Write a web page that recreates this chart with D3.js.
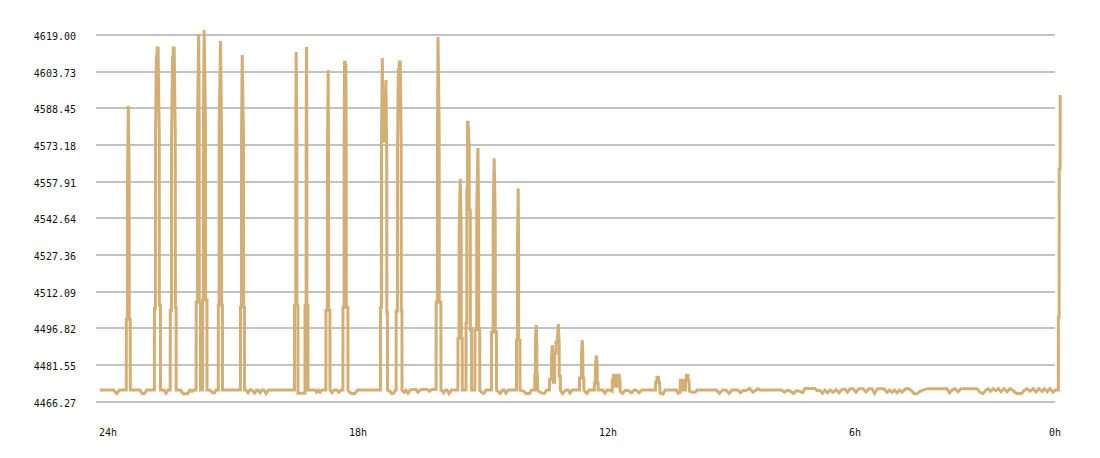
<!DOCTYPE html>
<html>
<head>
<meta charset="utf-8">
<script src="https://cdn.jsdelivr.net/npm/d3@7"></script>
<style>
  html, body { margin: 0; padding: 0; background: #ffffff; }
  svg { display: block; }
  text { font-family: "DejaVu Sans Mono", "Liberation Mono", monospace; font-size: 10px; fill: #111; }
</style>
</head>
<body>
<svg id="chart" width="1100" height="458"></svg>
<script>
// ---- data ----
const yTicks = [4466.27, 4481.55, 4496.82, 4512.09, 4527.36, 4542.64, 4557.91, 4573.18, 4588.45, 4603.73, 4619.00];
const xTickHours = [24, 18, 12, 6, 0];
const xTickLabels = ["24h", "18h", "12h", "6h", "0h"];
// [minutes since 24h ago, price]
const series = [
  [0,4471.1],[19.4,4471.1],[24.0,4469.6],[28.1,4471.1],[36.7,4471.1],
  [37.8,4471.1],[37.9,4500.6],[39.5,4500.6],[39.6,4559.8],[40.8,4589.4],[42.0,4559.8],[42.15,4500.6],[43.5,4500.6],[43.6,4471.1],
  [57.6,4471.1],[60.5,4469.7],[64.1,4469.7],[67.2,4471.1],[78.3,4471.1],
  [78.4,4505.2],[79.8,4505.2],[79.9,4574.0],[81.1,4609.8],[82.2,4609.8],[82.4,4613.6],[83.6,4613.6],[85.3,4577.7],[85.45,4506.5],[87.0,4506.5],[87.1,4471.1],
  [92.2,4471.1],[95.0,4469.8],[97.9,4471.1],[101.1,4471.1],
  [101.2,4504.4],[102.9,4504.4],[103.0,4573.6],[104.4,4609.8],[105.4,4609.8],[105.5,4613.6],[106.8,4613.6],[108.4,4577.3],[108.55,4505.6],[109.6,4505.6],[109.7,4471.1],
  [115.9,4471.1],[119.5,4469.6],[126.0,4469.6],[129.6,4471.1],[132.5,4470.6],[134.6,4471.1],[138.4,4471.1],
  [138.5,4507.7],[140.3,4507.7],[140.4,4582.3],[142.1,4619.4],[142.8,4582.3],[142.95,4507.7],[144.6,4507.7],[144.7,4471.1],
  [147.8,4471.1],
  [147.9,4508.6],[148.9,4508.6],[149.0,4583.6],[150.0,4621.1],[151.9,4583.6],[152.05,4508.6],[154.0,4508.6],[154.1,4471.1],
  [158.4,4471.1],[162.0,4470.0],[164.9,4470.0],[167.0,4471.1],[170.3,4471.1],
  [170.4,4506.5],[171.5,4506.5],[171.6,4579.8],[173.5,4616.5],[175.0,4579.8],[175.15,4506.5],[176.3,4506.5],[176.4,4471.1],
  [202.2,4471.1],
  [202.3,4505.6],[203.7,4505.6],[203.8,4575.7],[204.8,4610.7],[206.6,4575.7],[206.75,4505.6],[208.0,4505.6],[208.1,4471.1],
  [210.2,4471.1],[213.1,4470.0],[216.0,4471.3],[218.9,4471.1],[222.5,4469.8],[225.4,4471.1],[227.5,4471.1],
  [230.4,4470.0],[233.3,4471.1],[236.2,4471.1],[239.0,4469.6],[242.6,4471.1],[280.0,4471.1],
  [280.1,4506.1],[281.9,4506.1],[282.0,4576.5],[282.5,4611.9],[283.4,4576.5],[283.55,4506.1],[285.0,4506.1],[285.1,4469.8],
  [293.8,4469.8],[295.1,4469.8],
  [295.2,4506.5],[296.8,4506.5],[296.9,4578.2],[297.4,4614.0],[297.8,4578.2],[297.95,4506.5],[299.4,4506.5],[299.5,4471.1],
  [309.6,4471.1],[312.0,4470.2],[314.4,4471.1],[316.8,4470.2],[319.2,4471.1],[325.3,4471.1],
  [325.4,4504.4],[327.5,4504.4],[327.6,4571.1],[328.6,4604.4],[329.0,4571.1],[329.15,4504.4],[331.1,4504.4],[331.2,4471.1],
  [334.1,4470.0],[337.0,4471.1],[341.3,4471.1],[344.2,4470.2],[347.0,4471.1],[349.8,4471.1],
  [349.9,4505.6],[351.5,4505.6],[351.6,4573.2],[352.1,4607.7],[352.9,4607.7],[353.0,4606.5],[354.2,4606.5],[354.5,4573.2],[354.65,4505.6],[357.0,4505.6],[357.1,4471.1],
  [360.0,4470.0],[362.9,4469.7],[367.2,4469.7],[370.8,4471.1],[403.8,4471.1],
  [403.9,4505.6],[405.3,4505.6],[405.4,4574.8],[406.5,4609.4],[407.8,4574.8],[410.0,4574.8],[411.7,4600.3],[412.9,4567.7],[413.05,4503.2],[413.9,4503.2],[414.0,4471.1],
  [417.6,4470.6],[419.8,4469.7],[422.6,4469.7],[425.5,4471.1],[426.4,4471.1],
  [426.5,4504.0],[428.3,4504.0],[428.4,4570.2],[429.6,4604.4],[430.8,4604.4],[431.0,4607.8],[432.4,4607.8],[433.7,4573.2],[433.85,4504.0],[434.8,4504.0],[434.9,4471.1],
  [437.8,4470.2],[440.6,4471.1],[443.5,4469.8],[446.4,4471.1],[450.7,4471.3],[455.0,4471.3],[457.9,4470.2],
  [460.8,4471.1],[465.1,4471.4],[470.9,4471.4],[474.5,4470.6],[477.4,4471.3],[484.0,4471.3],
  [484.1,4507.7],[485.9,4507.7],[486.0,4580.7],[486.7,4618.2],[488.4,4580.7],[488.55,4507.7],[490.9,4507.7],[491.0,4471.1],
  [491.8,4471.1],[494.6,4470.0],[497.5,4471.1],[499.7,4471.1],[502.6,4469.7],[506.2,4471.1],[515.4,4471.1],
  [515.5,4492.7],[517.1,4492.7],[517.2,4536.9],[518.8,4559.0],[520.1,4536.9],[520.25,4492.7],[521.6,4492.7],[521.7,4471.1],
  [527.0,4471.1],
  [527.1,4499.0],[528.2,4499.0],[528.3,4554.8],[529.1,4554.8],[529.2,4582.7],[530.0,4582.7],[530.1,4579.8],[530.8,4579.8],
  [530.9,4574.0],[531.6,4574.0],[531.7,4546.1],[533.2,4546.1],[533.3,4496.1],[535.0,4496.1],[535.1,4471.1],
  [539.9,4471.1],
  [540.0,4496.1],[542.4,4496.1],[542.5,4546.5],[544.2,4571.9],[545.2,4546.5],[545.35,4496.1],[546.8,4496.1],[546.9,4471.1],
  [550.1,4470.0],[553.0,4469.8],[555.8,4471.1],[563.7,4471.1],
  [563.8,4495.2],[566.1,4495.2],[566.2,4543.2],[567.6,4567.7],[569.1,4543.2],[569.25,4495.2],[570.9,4495.2],[571.0,4471.1],
  [574.6,4470.2],[576.7,4469.7],[579.6,4471.1],[581.8,4471.1],[584.6,4469.8],[587.5,4471.1],[599.7,4471.1],
  [599.8,4491.9],[601.1,4491.9],[601.2,4534.0],[602.2,4555.2],[602.7,4534.0],[602.85,4491.9],[604.7,4491.9],[604.8,4471.1],
  [610.6,4470.6],[613.4,4469.7],[618.5,4469.7],[621.4,4471.1],[626.0,4471.1],
  [626.1,4477.3],[627.0,4477.3],[627.1,4491.1],[628.1,4498.2],[629.0,4491.1],[629.15,4477.3],[629.9,4477.3],[630.0,4471.1],
  [633.6,4470.2],[636.5,4469.8],[640.1,4469.8],[643.0,4471.1],[647.2,4471.1],
  [647.3,4475.6],[650.1,4475.6],[650.2,4484.8],[651.3,4489.8],[652.4,4484.8],[652.55,4474.4],[654.6,4474.4],
  [654.7,4486.5],[656.5,4486.5],[656.6,4491.1],[658.5,4491.1],[659.9,4498.6],[661.2,4491.1],[661.35,4476.9],[662.9,4476.9],[663.0,4471.1],
  [666.0,4469.6],[668.9,4470.6],[671.0,4471.1],[673.9,4471.1],[676.8,4469.8],[679.7,4471.1],[690.4,4471.1],
  [690.5,4476.1],[693.3,4476.1],[693.4,4486.5],[694.4,4491.9],[695.3,4486.5],[695.45,4476.1],[696.7,4476.1],[696.8,4471.1],
  [699.1,4470.2],[701.3,4469.7],[704.2,4471.1],[712.0,4471.1],
  [712.1,4474.0],[713.4,4474.0],[713.5,4481.5],[714.7,4485.6],[716.0,4481.5],[716.15,4474.0],[717.3,4474.0],[717.4,4471.1],
  [724.3,4471.1],[727.2,4469.8],[730.1,4471.1],[733.0,4471.1],[737.6,4470.6],
  [737.7,4475.2],[739.1,4475.2],[739.2,4477.3],[742.0,4477.3],[742.1,4472.7],[744.4,4472.7],[744.5,4477.3],[747.8,4477.3],[747.9,4475.2],[748.8,4475.2],[748.9,4470.6],
  [752.4,4469.7],[756.0,4470.9],[760.3,4470.9],[765.4,4470.0],[769.0,4471.1],[771.8,4471.1],[776.2,4470.0],[780.0,4471.1],[800.0,4471.1],
  [800.1,4474.4],[801.9,4474.4],[802.0,4476.5],[804.2,4476.5],[804.3,4474.4],[805.7,4474.4],[806.5,4469.8],
  [810.7,4469.4],[813.6,4471.1],[830.2,4471.1],[832.3,4469.8],[835.6,4470.2],
  [835.7,4475.2],[839.0,4475.2],[839.5,4471.1],[843.1,4471.1],[843.2,4475.2],[844.4,4475.2],[844.5,4477.3],[846.8,4477.3],[846.9,4475.2],[848.0,4475.2],[848.8,4470.6],
  [852.5,4470.2],[856.8,4470.2],[859.7,4471.1],[887.8,4471.1],[892.1,4469.7],[896.4,4471.1],[901.4,4471.1],
  [905.8,4469.7],[910.1,4471.1],[918.7,4471.1],[922.3,4470.0],[925.9,4470.9],[930.2,4470.9],[935.3,4471.8],
  [940.3,4470.2],[944.6,4471.1],[947.5,4471.7],[950.4,4471.1],[981.4,4471.1],[985.7,4470.2],[989.3,4470.9],
  [992.9,4470.9],[998.6,4469.7],[1002.9,4470.9],[1008.0,4470.6],[1011.6,4470.0],[1015.2,4471.8],[1029.6,4471.8],
  [1032.5,4470.9],[1036.8,4470.9],[1040.4,4469.8],[1044.0,4471.1],[1047.6,4470.0],[1051.2,4471.1],[1055.5,4470.2],
  [1059.8,4471.3],[1064.2,4470.0],[1068.5,4471.3],[1072.8,4471.5],[1076.4,4470.2],[1080.0,4471.7],[1084.3,4471.7],
  [1088.6,4470.2],[1092.9,4471.7],[1098.7,4471.7],[1103.0,4470.4],[1107.4,4471.7],[1111.7,4471.7],[1115.3,4469.8],
  [1119.6,4471.7],[1129.0,4471.7],[1133.3,4470.2],[1136.9,4471.1],[1140.5,4470.2],[1144.1,4471.1],[1147.7,4470.0],
  [1151.3,4471.1],[1154.9,4470.2],[1159.2,4471.5],[1163.5,4471.8],[1167.8,4471.1],[1172.2,4469.6],[1176.5,4469.6],
  [1180.8,4470.6],[1185.1,4471.1],[1192.3,4471.7],[1219.7,4471.7],[1223.3,4470.0],[1226.9,4471.1],[1231.2,4471.7],
  [1235.5,4470.4],[1239.8,4471.7],[1262.9,4471.7],[1267.2,4470.2],[1271.5,4469.6],[1275.1,4470.9],[1278.7,4471.7],
  [1282.3,4470.6],[1285.9,4471.7],[1290.2,4470.9],[1293.8,4471.7],[1297.4,4470.4],[1301.8,4471.7],[1306.1,4470.4],
  [1310.4,4471.7],[1314.7,4470.9],[1319.8,4469.7],[1327.0,4469.7],[1331.3,4471.1],[1334.9,4471.7],[1339.2,4470.6],
  [1343.5,4471.7],[1347.8,4470.4],[1352.2,4471.7],[1356.5,4470.6],[1360.1,4471.7],[1364.4,4470.4],[1368.0,4471.7],
  [1372.3,4470.2],[1375.9,4471.1],[1380.0,4471.1],
  [1380.1,4501.5],[1381.2,4501.5],[1381.3,4563.2],[1382.6,4563.2],[1382.7,4594.0]
];

// ---- chart ----
const svg = d3.select("#chart");
const x = d3.scaleLinear().domain([0, 1440]).range([100, 1100]);
const y = d3.scaleLinear().domain([4466.27, 4619.00]).range([401.7, 35]);
const gridX0 = 96, gridX1 = 1055;

const grid = svg.append("g");
grid.selectAll("line").data(yTicks).join("line")
  .attr("x1", gridX0).attr("x2", gridX1)
  .attr("y1", d => Math.round(y(d))).attr("y2", d => Math.round(y(d)))
  .attr("stroke", "#c2c2c2").attr("stroke-width", 2);

svg.append("g").selectAll("text").data(yTicks).join("text")
  .attr("x", 76).attr("y", d => Math.round(y(d)) + 5)
  .attr("text-anchor", "end")
  .text(d => d3.format(".2f")(d));

svg.append("g").selectAll("text").data(xTickHours).join("text")
  .attr("x", d => Math.min(x((24 - d) * 60), 1050) - 1)
  .attr("y", 436)
  .attr("text-anchor", "start")
  .text((d, i) => xTickLabels[i]);

const line = d3.line().x(d => x(d[0])).y(d => y(d[1]));
svg.append("path").datum(series)
  .attr("d", line)
  .attr("fill", "none")
  .attr("stroke", "#d3af74")
  .attr("stroke-width", 3)
  .attr("stroke-linejoin", "miter");
</script>
</body>
</html>
